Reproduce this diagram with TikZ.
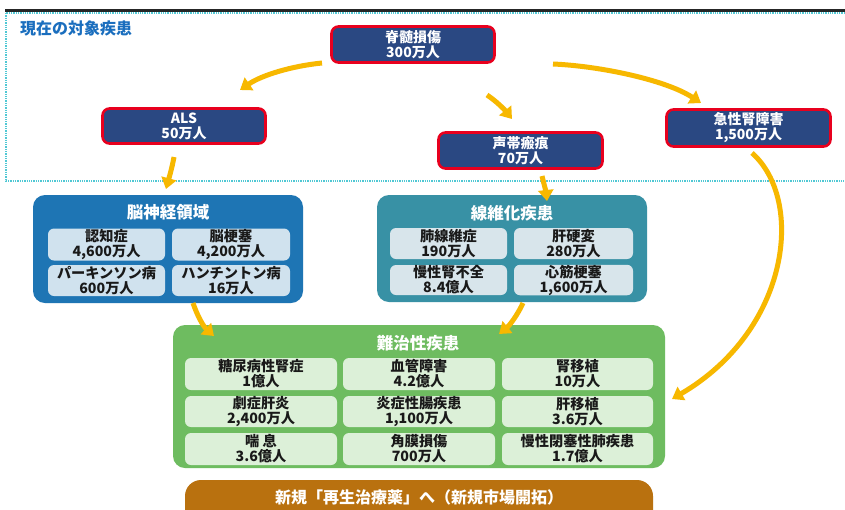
\documentclass[tikz,border=0pt]{standalone}
\usepackage{fontspec}
\setmainfont{Noto Sans CJK JP}
\usetikzlibrary{arrows.meta}
\definecolor{navyc}{RGB}{42,72,130}
\definecolor{redb}{RGB}{232,0,30}
\definecolor{bluegrp}{RGB}{30,117,180}
\definecolor{bluesub}{RGB}{208,226,238}
\definecolor{tealgrp}{RGB}{56,145,165}
\definecolor{tealsub}{RGB}{216,229,235}
\definecolor{greengrp}{RGB}{110,188,96}
\definecolor{greensub}{RGB}{220,240,216}
\definecolor{orangebar}{RGB}{185,113,15}
\definecolor{arrowc}{RGB}{247,184,0}
\definecolor{titleblue}{RGB}{26,110,190}
\definecolor{dotc}{RGB}{80,200,212}
\tikzset{
  navybox/.style={draw=redb, line width=2.6pt, fill=navyc, rounded corners=7pt,
    text=white, font=\bfseries\fontsize{14}{15}\selectfont, align=center, inner sep=0pt},
  grpbox/.style={rounded corners=12pt, inner sep=0pt},
  grptitle/.style={text=white, font=\bfseries\fontsize{16.5}{18}\selectfont, inner sep=0pt},
  subbox/.style={rounded corners=6pt, inner sep=0pt, align=center,
    text={black!90}, font=\bfseries\fontsize{14.2}{15}\selectfont},
  flow/.style={draw=arrowc, line width=5pt, -{Triangle[width=15pt,length=11pt]}},
}
\begin{document}
\begin{tikzpicture}[x=1pt,y=-1pt]
\useasboundingbox (0,0) rectangle (845,509);
\fill[white] (0,0) rectangle (845,509);
% top rule and dotted frame
\fill[black!85] (5,8.5) rectangle (845,11.5);
\draw[dotc, densely dotted, line width=1.3pt] (6,13) rectangle (852,181);
\node[text=titleblue, font=\bfseries\fontsize{16}{18}\selectfont, anchor=west, inner sep=0pt] (title) at (20,28) {現在の対象疾患};

% current target diseases
\node[navybox, minimum width=163pt, minimum height=36pt] (sci) at (413,44.5) {脊髄損傷\\300万人};
\node[navybox, minimum width=163pt, minimum height=35pt] (als) at (184,126) {ALS\\50万人};
\node[navybox, minimum width=164pt, minimum height=36pt] (voc) at (520.5,150.5) {声帯瘢痕\\70万人};
\node[navybox, minimum width=164pt, minimum height=37pt] (aki) at (748.5,128) {急性腎障害\\1,500万人};

% brain group
\node[grpbox, fill=bluegrp, minimum width=270pt, minimum height=108pt] (brain) at (168,249) {};
\node[grptitle] (braint) at (168,212) {脳神経領域};
\node[subbox, fill=bluesub, minimum width=117pt, minimum height=32pt] (b1) at (106.5,244.5) {認知症\\4,600万人};
\node[subbox, fill=bluesub, minimum width=118pt, minimum height=32pt] (b2) at (231,244.5) {脳梗塞\\4,200万人};
\node[subbox, fill=bluesub, minimum width=117pt, minimum height=31pt] (b3) at (106.5,280.5) {パーキンソン病\\600万人};
\node[subbox, fill=bluesub, minimum width=118pt, minimum height=31pt] (b4) at (231,280.5) {ハンチントン病\\16万人};

% fibrosis group
\node[grpbox, fill=tealgrp, minimum width=270pt, minimum height=107pt] (fib) at (512,248.5) {};
\node[grptitle] (fibt) at (512,213) {線維化疾患};
\node[subbox, fill=tealsub, minimum width=117pt, minimum height=31pt] (f1) at (448.5,243.5) {肺線維症\\190万人};
\node[subbox, fill=tealsub, minimum width=119pt, minimum height=31pt] (f2) at (573.5,243.5) {肝硬変\\280万人};
\node[subbox, fill=tealsub, minimum width=117pt, minimum height=30pt] (f3) at (448.5,280) {慢性腎不全\\8.4億人};
\node[subbox, fill=tealsub, minimum width=119pt, minimum height=30pt] (f4) at (573.5,280) {心筋梗塞\\1,600万人};

% intractable group
\node[grpbox, fill=greengrp, minimum width=492pt, minimum height=143pt] (intr) at (419,396.5) {};
\node[grptitle] (intrt) at (418,343) {難治性疾患};
\node[subbox, fill=greensub, minimum width=152pt, minimum height=32pt] (g11) at (261,374) {糖尿病性腎症\\1億人};
\node[subbox, fill=greensub, minimum width=152pt, minimum height=32pt] (g12) at (419,374) {血管障害\\4.2億人};
\node[subbox, fill=greensub, minimum width=151pt, minimum height=32pt] (g13) at (577.5,374) {腎移植\\10万人};
\node[subbox, fill=greensub, minimum width=152pt, minimum height=31pt] (g21) at (261,411.5) {劇症肝炎\\2,400万人};
\node[subbox, fill=greensub, minimum width=152pt, minimum height=31pt] (g22) at (419,411.5) {炎症性腸疾患\\1,100万人};
\node[subbox, fill=greensub, minimum width=151pt, minimum height=31pt] (g23) at (577.5,411.5) {肝移植\\3.6万人};
\node[subbox, fill=greensub, minimum width=152pt, minimum height=32pt] (g31) at (261,449) {喘 息\\3.6億人};
\node[subbox, fill=greensub, minimum width=152pt, minimum height=32pt] (g32) at (419,449) {角膜損傷\\700万人};
\node[subbox, fill=greensub, minimum width=151pt, minimum height=32pt] (g33) at (577.5,449) {慢性閉塞性肺疾患\\1.7億人};

% bottom bar
\fill[orangebar, rounded corners=16pt] (185,480) rectangle (653,540);
\node[text=white, font=\bfseries\fontsize{16}{18}\selectfont, inner sep=0pt] (bar) at (419,497) {新規「再生治療薬」へ（新規市場開拓）};

% arrows
\coordinate (a1s) at (322,63);  \coordinate (a1e) at (240,90);
\coordinate (a2s) at (487,95);  \coordinate (a2e) at (512,119);
\coordinate (a3s) at (553,64);  \coordinate (a3e) at (701,103);
\coordinate (a4s) at (174,157); \coordinate (a4e) at (166,189);
\coordinate (a5s) at (542,176); \coordinate (a5e) at (547,201);
\coordinate (a6s) at (752,153); \coordinate (a6e) at (672,399);
\coordinate (a7s) at (193,303); \coordinate (a7e) at (214,336);
\coordinate (a8s) at (523,303); \coordinate (a8e) at (499,334);
\draw[flow] (a1s) .. controls (292,66) and (262,75) .. (a1e);
\draw[flow] (a2s) .. controls (496,101) and (504,109) .. (a2e);
\draw[flow] (a3s) .. controls (600,66) and (666,80) .. (a3e);
\draw[flow] (a4s) .. controls (172,168) and (169,178) .. (a4e);
\draw[flow] (a5s) .. controls (544,184) and (546,192) .. (a5e);
\draw[flow] (a6s) .. controls (805,200) and (790,330) .. (a6e);
\draw[flow] (a7s) .. controls (197,315) and (203,326) .. (a7e);
\draw[flow] (a8s) .. controls (518,314) and (510,325) .. (a8e);
\end{tikzpicture}
\end{document}
